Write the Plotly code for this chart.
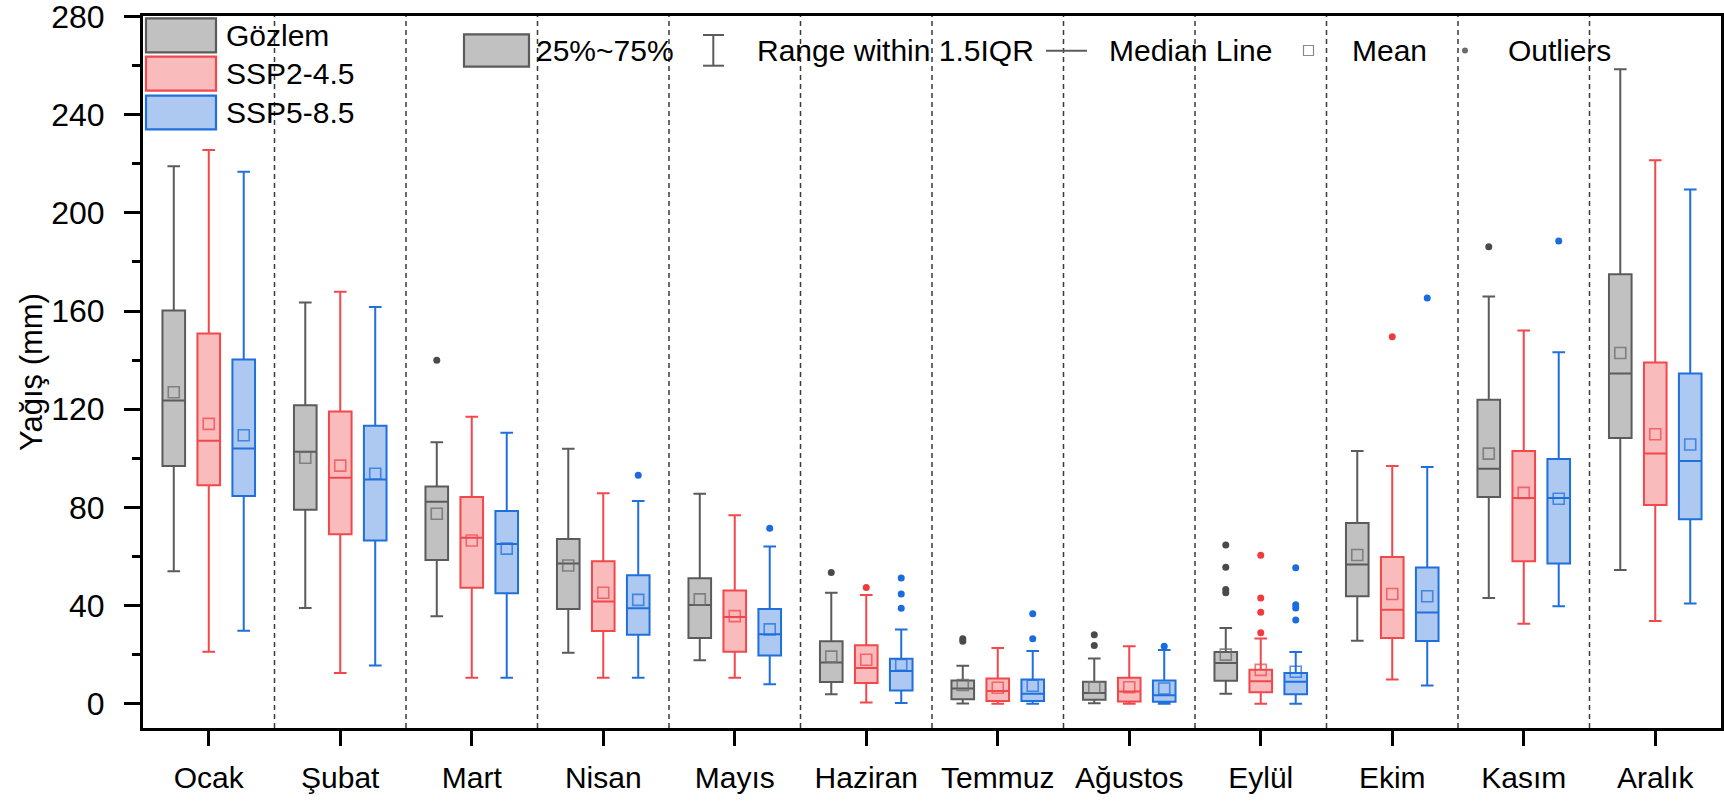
import plotly.graph_objects as go

months = ["Ocak", "Şubat", "Mart", "Nisan", "Mayıs", "Haziran", "Temmuz",
          "Ağustos", "Eylül", "Ekim", "Kasım", "Aralık"]

# ---- Gözlem ----
obs_low = [54.0, 39.0, 35.6, 20.8, 17.7, 3.9, 0.1, 0.2, 4.1, 25.7, 43.1, 54.5]
obs_q1 = [96.8, 79.0, 58.5, 38.6, 26.8, 8.8, 1.8, 1.6, 9.4, 43.8, 84.2, 108.3]
obs_med = [123.5, 102.7, 82.3, 57.1, 40.2, 16.8, 6.2, 4.4, 16.6, 56.7, 95.7, 134.5]
obs_q3 = [160.2, 121.6, 88.5, 67.1, 51.1, 25.4, 9.5, 8.9, 21.1, 73.6, 123.8, 175.0]
obs_up = [219.0, 163.5, 106.5, 103.9, 85.5, 45.2, 15.5, 18.4, 30.8, 103.0, 165.9, 258.5]
obs_mean = [126.9, 100.2, 77.4, 56.3, 42.5, 19.2, 7.6, 6.7, 20.0, 60.6, 101.9, 142.9]
obs_out = [[], [], [139.9], [], [], [53.5], [26.5, 25.4], [28.1, 23.7],
           [64.7, 55.6, 46.5, 45.2], [], [186.2], []]

# ---- SSP2-4.5 ----
s245_low = [21.2, 12.5, 10.6, 10.6, 10.6, 0.5, 0.0, 0.0, 0.0, 9.9, 32.6, 33.7]
s245_q1 = [89.0, 69.0, 47.2, 29.6, 21.2, 8.4, 1.1, 0.9, 4.7, 26.8, 58.0, 81.0]
s245_med = [107.1, 92.1, 67.6, 41.6, 35.3, 14.5, 5.2, 5.0, 9.1, 38.3, 83.8, 101.9]
s245_q3 = [150.8, 119.1, 84.2, 58.0, 46.1, 23.8, 10.3, 10.6, 13.8, 59.8, 103.0, 139.0]
s245_up = [225.6, 167.8, 116.9, 85.7, 76.8, 44.3, 22.7, 23.4, 26.6, 96.9, 152.1, 221.4]
s245_mean = [114.0, 97.0, 66.5, 45.2, 35.7, 17.9, 6.5, 6.7, 13.8, 44.7, 85.9, 109.8]
s245_out = [[], [], [], [], [], [47.3], [], [], [60.5, 43.1, 37.3, 28.9], [149.5], [], []]

# ---- SSP5-8.5 ----
s585_low = [29.7, 15.6, 10.6, 10.6, 7.9, 0.3, 0.0, 0.0, 0.0, 7.4, 39.7, 40.8]
s585_q1 = [84.6, 66.5, 45.0, 28.1, 19.6, 5.4, 1.1, 0.8, 3.9, 25.5, 57.1, 75.2]
s585_med = [104.0, 91.3, 65.1, 38.9, 28.3, 13.3, 4.1, 3.4, 8.9, 37.2, 83.8, 98.9]
s585_q3 = [140.2, 113.2, 78.5, 52.3, 38.6, 18.3, 9.9, 9.5, 12.5, 55.5, 99.7, 134.5]
s585_up = [216.7, 161.6, 110.4, 82.6, 64.1, 30.2, 21.5, 21.9, 21.1, 96.4, 143.2, 209.5]
s585_mean = [109.4, 93.7, 63.2, 42.3, 30.3, 15.8, 7.3, 6.2, 13.0, 43.8, 83.5, 105.6]
s585_out = [[], [], [], [93.1], [71.5], [51.2, 44.7, 38.9], [36.7, 26.5], [23.4],
            [55.4, 40.3, 39.0, 34.1], [165.3], [188.5], []]

y_ticks = [0, 40, 80, 120, 160, 200, 240, 280]

series = [
    dict(name="Gözlem", low=obs_low, q1=obs_q1, med=obs_med, q3=obs_q3, up=obs_up,
         mean=obs_mean, out=obs_out, line="#5b5b5b", fill="#c1c1c1",
         meanc="rgba(110,110,110,0.8)", outc="#4a4a4a", off=-0.266),
    dict(name="SSP2-4.5", low=s245_low, q1=s245_q1, med=s245_med, q3=s245_q3, up=s245_up,
         mean=s245_mean, out=s245_out, line="#f2474b", fill="#fabbbd",
         meanc="rgba(240,70,75,0.75)", outc="#f03a3f", off=0.0),
    dict(name="SSP5-8.5", low=s585_low, q1=s585_q1, med=s585_med, q3=s585_q3, up=s585_up,
         mean=s585_mean, out=s585_out, line="#1f6fdd", fill="#adc9f1",
         meanc="rgba(31,111,221,0.75)", outc="#1a6be0", off=0.266),
]

FONT = "Liberation Sans, Arial, sans-serif"
PL, PR, PT, PB = 143, 1721, 16, 728   # plot area on the page
W, H = 1724, 803
ML, MT, MR, MB = PL, PT, W - PR, H - PB
PW, PH = PR - PL, PB - PT


def px(xp):
    return (xp - PL) / PW


def py(yp):
    return 1 - (yp - PT) / PH


fig = go.Figure()

for s in series:
    xs = [i + s["off"] for i in range(len(months))]
    fig.add_trace(go.Box(
        x=xs, q1=s["q1"], median=s["med"], q3=s["q3"],
        lowerfence=s["low"], upperfence=s["up"],
        width=0.172, whiskerwidth=0.56, boxpoints=False,
        line=dict(color=s["line"], width=2), fillcolor=s["fill"],
        name=s["name"], showlegend=False, hoverinfo="skip",
    ))
    fig.add_trace(go.Scatter(
        x=xs, y=s["mean"], mode="markers",
        marker=dict(symbol="square-open", size=11, color=s["meanc"],
                    line=dict(width=1.6, color=s["meanc"])),
        showlegend=False, hoverinfo="skip",
    ))
    ox, oy = [], []
    for i, vals in enumerate(s["out"]):
        for v in vals:
            ox.append(i + s["off"])
            oy.append(v)
    fig.add_trace(go.Scatter(
        x=ox, y=oy, mode="markers",
        marker=dict(symbol="circle", size=7, color=s["outc"]),
        showlegend=False, hoverinfo="skip",
    ))

shapes = []
for i in range(len(months) - 1):
    shapes.append(dict(type="line", xref="x", yref="paper", x0=i + 0.5, x1=i + 0.5,
                       y0=0, y1=1, layer="below",
                       line=dict(color="#3a3a3a", width=1.5, dash="5px,4px")))

annotations = []
# left legend (series)
rows = [(18.3, 52.3), (56.7, 90.7), (95.7, 129.3)]
for s, (y0, y1) in zip(series, rows):
    shapes.append(dict(type="rect", xref="paper", yref="paper",
                       x0=px(146), x1=px(216), y0=py(y1), y1=py(y0),
                       fillcolor=s["fill"], line=dict(color=s["line"], width=2.2)))
    annotations.append(dict(x=px(224), y=py((y0 + y1) / 2), xref="paper", yref="paper",
                            text=s["name"], showarrow=False, xanchor="left", yanchor="middle",
                            font=dict(size=30, color="black", family=FONT)))

# right legend (box elements)
g = "#5b5b5b"
shapes.append(dict(type="rect", xref="paper", yref="paper", x0=px(464), x1=px(529),
                   y0=py(66.7), y1=py(34.3), fillcolor="#c1c1c1", line=dict(color=g, width=2.2)))
shapes.append(dict(type="line", xref="paper", yref="paper", x0=px(713.3), x1=px(713.3),
                   y0=py(65.7), y1=py(35), line=dict(color=g, width=2)))
shapes.append(dict(type="line", xref="paper", yref="paper", x0=px(703), x1=px(724),
                   y0=py(35), y1=py(35), line=dict(color=g, width=2)))
shapes.append(dict(type="line", xref="paper", yref="paper", x0=px(703), x1=px(724),
                   y0=py(65.7), y1=py(65.7), line=dict(color=g, width=2)))
shapes.append(dict(type="line", xref="paper", yref="paper", x0=px(1046), x1=px(1087),
                   y0=py(50.7), y1=py(50.7), line=dict(color=g, width=2)))
shapes.append(dict(type="rect", xref="paper", yref="paper", x0=px(1303.5), x1=px(1313.5),
                   y0=py(55.5), y1=py(45.5), line=dict(color="#8a8a8a", width=1.2)))
shapes.append(dict(type="circle", xref="paper", yref="paper", x0=px(1462), x1=px(1468),
                   y0=py(53.5), y1=py(47.5), fillcolor="#6a6a6a", line=dict(color="#6a6a6a", width=0)))

for txt, xp in [("25%~75%", 534), ("Range within 1.5IQR", 755), ("Median Line", 1107),
                ("Mean", 1350), ("Outliers", 1506)]:
    annotations.append(dict(x=px(xp), y=py(50.5), xref="paper", yref="paper", text=txt,
                            showarrow=False, xanchor="left", yanchor="middle",
                            font=dict(size=30, color="black", family=FONT)))

fig.update_layout(
    width=W, height=H,
    margin=dict(l=ML, r=MR, t=MT, b=MB, autoexpand=False),
    plot_bgcolor="white", paper_bgcolor="white",
    font=dict(family=FONT, color="black", size=30),
    shapes=shapes, annotations=annotations,
    showlegend=False,
)
fig.update_xaxes(
    range=[-0.5, len(months) - 0.5], tickmode="array",
    tickvals=list(range(len(months))), ticktext=months,
    showgrid=False, zeroline=False, showline=True, linewidth=3, linecolor="black",
    mirror=True, ticks="outside", ticklen=15, tickwidth=3, tickcolor="black",
    tickfont=dict(size=30, family=FONT, color="black"), ticklabelstandoff=6,
    ticklabeloverflow="allow",
)
fig.update_yaxes(
    range=[-9.9, 280.2], tickmode="array", tickvals=y_ticks,
    showgrid=False, zeroline=False, showline=True, linewidth=3, linecolor="black",
    mirror=True, ticks="outside", ticklen=16, tickwidth=3, tickcolor="black",
    minor=dict(dtick=20, tick0=0, ticks="outside", ticklen=8, tickwidth=3, tickcolor="black",
               showgrid=False),
    tickfont=dict(size=32, family=FONT, color="black"), ticklabelstandoff=13,
    ticklabeloverflow="allow",
    title=dict(text="Yağış (mm)", font=dict(size=31, family=FONT, color="black"), standoff=0),
)

fig.write_html("out.html", config={"displayModeBar": False},
               post_script="document.body.style.margin='0px';document.body.style.overflow='hidden';")
